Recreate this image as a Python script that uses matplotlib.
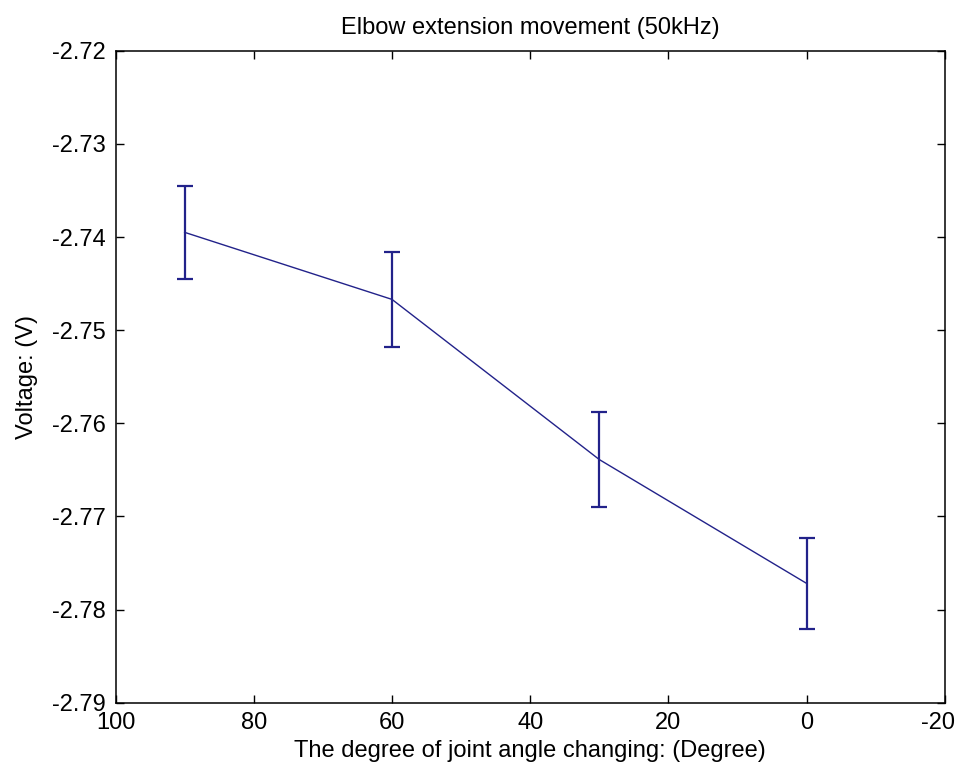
import matplotlib
matplotlib.use('Agg')
import matplotlib.pyplot as plt
import matplotlib.transforms as mtransforms
import numpy as np

plt.rcParams['font.family'] = ['Liberation Sans', 'DejaVu Sans']

angle = [90, 60, 30, 0]
voltage = [-2.7395, -2.7467, -2.7639, -2.7772]
err = [0.0050, 0.0051, 0.0051, 0.0049]

xticks = [100, 80, 60, 40, 20, 0, -20]
yticks = [-2.79, -2.78, -2.77, -2.76, -2.75, -2.74, -2.73, -2.72]

fig = plt.figure(figsize=(9.58, 7.71), dpi=100)
ax = fig.add_axes([0.1206, 0.0886, 0.8658, 0.8456])

ax.errorbar(angle, voltage, yerr=err, color='#22228a', linewidth=1.0,
            elinewidth=1.6, capsize=6, capthick=1.6)

ax.set_xlim(100, -20)
ax.set_ylim(-2.79, -2.72)
ax.set_xticks(xticks)
ax.set_yticks(yticks)
ax.set_xticklabels([str(t) for t in xticks])
ax.set_yticklabels(['%.2f' % t for t in yticks])
ax.tick_params(direction='in', length=6, width=1.0, top=True, right=True,
               labelsize=17)
ax.tick_params(axis='x', pad=7)
ax.tick_params(axis='y', pad=7)
for s in ax.spines.values():
    s.set_linewidth(1.1)

# last x label is pushed left so it stays inside the figure (like matlab does)
last = ax.get_xticklabels()[-1]
last.set_transform(last.get_transform() +
                   mtransforms.ScaledTranslation(-7 / 100, 0, fig.dpi_scale_trans))

ax.set_title('Elbow extension movement (50kHz)', fontsize=17, pad=12)
ax.set_xlabel('The degree of joint angle changing: (Degree)', fontsize=17, labelpad=4)
ax.set_ylabel('Voltage: (V)', fontsize=17, labelpad=10)

fig.savefig('out.png', dpi=100)
